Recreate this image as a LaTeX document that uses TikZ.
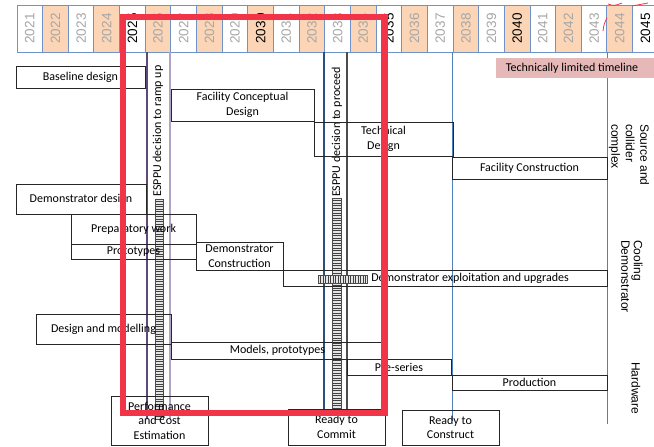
\documentclass[tikz,border=0pt]{standalone}
\usepackage{fontspec}
\setmainfont{Carlito}
\newfontfamily\arialf{Liberation Sans}
\definecolor{peach}{HTML}{FBD5B5}
\definecolor{cellblue}{HTML}{6F93C8}
\definecolor{yeargray}{HTML}{A6A6A6}
\definecolor{gridblue}{HTML}{4F81BD}
\definecolor{darkpurple}{HTML}{5F497A}
\definecolor{lightpurple}{HTML}{B3A2C7}
\definecolor{navyline}{HTML}{2E4E7E}
\definecolor{pinkfill}{HTML}{E6B9B8}
\definecolor{penred}{RGB}{242,52,72}
\begin{document}
\begin{tikzpicture}[x=1pt,y=-1pt,
  yearcell/.style={draw=cellblue, line width=1pt, minimum width=25.65pt, minimum height=47pt, inner sep=0pt, font=\arialf\fontsize{13.5}{13.5}\selectfont},
  box/.style={draw=black!85, line width=0.9pt, inner sep=0pt, align=center, font=\fontsize{12}{14.5}\selectfont},
  txt/.style={inner sep=0pt, align=center, font=\fontsize{12}{14.5}\selectfont},
  side/.style={inner sep=0pt, align=left, rotate=-90, anchor=west, font=\arialf\fontsize{12}{14.5}\selectfont},
  bar/.style={line width=1.1pt}]
\useasboundingbox (0,0) rectangle (654,447);

% year header
\foreach \i in {0,...,24}{
  \pgfmathtruncatemacro\yr{2021+\i}
  \pgfmathtruncatemacro\odd{mod(\i,2)}
  \pgfmathtruncatemacro\five{mod(\yr,5)}
  \ifnum\odd=1 \def\fc{peach}\else\def\fc{white}\fi
  \ifnum\five=0 \def\tc{black}\else\def\tc{yeargray}\fi
  \node[yearcell, fill=\fc, text=\tc] (y\yr) at ({29.825+25.65*\i}, 28.5) {\rotatebox{90}{\yr}};
}

% vertical lines
\coordinate (b1lt) at (147,52);  \coordinate (b1lb) at (147,419);
\coordinate (b1rt) at (170,52);  \coordinate (b1rb) at (170,419);
\coordinate (b2lt) at (324,52);  \coordinate (b2lb) at (324,410);
\coordinate (b2rt) at (347,52);  \coordinate (b2rb) at (347,410);
\coordinate (g1t) at (452,52);   \coordinate (g1b) at (452,421);
\coordinate (g2t) at (607,52);   \coordinate (g2b) at (607,424);
\draw[bar, darkpurple] (b1lt) -- (b1lb);
\draw[bar, lightpurple] (b1rt) -- (b1rb);
\draw[bar, navyline] (b2lt) -- (b2lb);
\draw[bar, black!70] (b2rt) -- (b2rb);
\draw[line width=1pt, gridblue] (g1t) -- (g1b);
\draw[line width=1pt, gridblue] (g2t) -- (g2b);

% hatched columns
\fill[gray!20] (155,199) rectangle (163,419);
\foreach \yy in {199,201.5,...,419} \draw[black!75, line width=0.6pt] (155,\yy) -- (163,\yy);
\draw[black!70, line width=0.6pt] (155,199) rectangle (163,419);
\fill[gray!20] (332,198) rectangle (341,409);
\foreach \yy in {198,200.5,...,409} \draw[black!75, line width=0.6pt] (332,\yy) -- (341,\yy);
\draw[black!70, line width=0.6pt] (332,198) rectangle (341,409);
\fill[gray!20] (318,275) rectangle (367,283);
\foreach \xx in {318,320.5,...,367} \draw[black!75, line width=0.6pt] (\xx,275) -- (\xx,283);
\draw[black!70, line width=0.6pt] (318,275) rectangle (367,283);

% milestone texts
\node[txt, rotate=90] (ramp) at (158,131) {ESPPU decision to ramp up};
\node[txt, rotate=90] (proceed) at (337,132) {ESPPU decision to proceed};

% boxes
\node[box, minimum width=129pt, minimum height=22pt] (baseline) at (80.5,77) {Baseline design};
\node[box, minimum width=143pt, minimum height=32pt] (fcd) at (242.5,105) {Facility Conceptual\\Design};
\node[box, minimum width=139pt, minimum height=34pt] (td) at (383.5,139) {Technical\\Design};
\node[box, minimum width=155pt, minimum height=22pt] (fc) at (529.5,168) {Facility Construction};
\fill[pinkfill] (496,58) rectangle (660,78);
\node[txt] (tlt) at (572,68) {Technically limited timeline};
\node[box, minimum width=130pt, minimum height=30pt] (dd) at (81,199) {Demonstrator design};
\node[box, minimum width=125pt, minimum height=30pt] (prep) at (133.5,229) {Preparatory work};
\node[box, minimum width=125pt, minimum height=14.5pt] (proto) at (133.5,252) {Prototypes};
\node[box, minimum width=87pt, minimum height=28pt] (dc) at (239.5,256) {Demonstrator\\Construction};
\node[box, minimum width=324pt, minimum height=16pt] (dex) at (445,278) {};
\node[txt] (dext) at (470,278.5) {Demonstrator exploitation and upgrades};
\node[box, minimum width=135pt, minimum height=30pt] (dm) at (103.5,329) {Design and modelling};
\node[box, minimum width=213pt, minimum height=17pt] (mp) at (277.5,350.5) {Models, prototypes};
\node[box, minimum width=104pt, minimum height=16pt] (ps) at (399,367) {Pre-series};
\node[box, minimum width=155pt, minimum height=15pt] (prod) at (529.5,382.5) {Production};
\node[box, minimum width=97pt, minimum height=49pt] (pce) at (159.5,420.5) {Performance\\and Cost\\Estimation};
\node[box, minimum width=97pt, minimum height=36pt] (rtc) at (336.5,427) {Ready to\\Commit};
\node[box, minimum width=97pt, minimum height=35pt] (rtcon) at (450.5,427.5) {Ready to\\Construct};

% side labels
\node[side] (src) at (629,124) {Source and\\collider\\complex};
\node[side, font=\arialf\fontsize{12}{12.5}\selectfont] (cool) at (632,240) {Cooling\\Demonstrator};
\node[side] (hw) at (636,362) {Hardware};

% red annotations
\draw[penred, line width=0.8pt] (603,31) .. controls (604,24) .. (607,18);
\draw[penred, line width=0.8pt] (608,4) .. controls (614,6) .. (622,3);
\draw[penred, line width=0.8pt] (632,6) .. controls (640,4) .. (648,3);
\coordinate (rtl) at (123,17);
\coordinate (rbr) at (384.5,413);
\draw[penred, line width=6.5pt] (rtl) rectangle (rbr);
\end{tikzpicture}
\end{document}
